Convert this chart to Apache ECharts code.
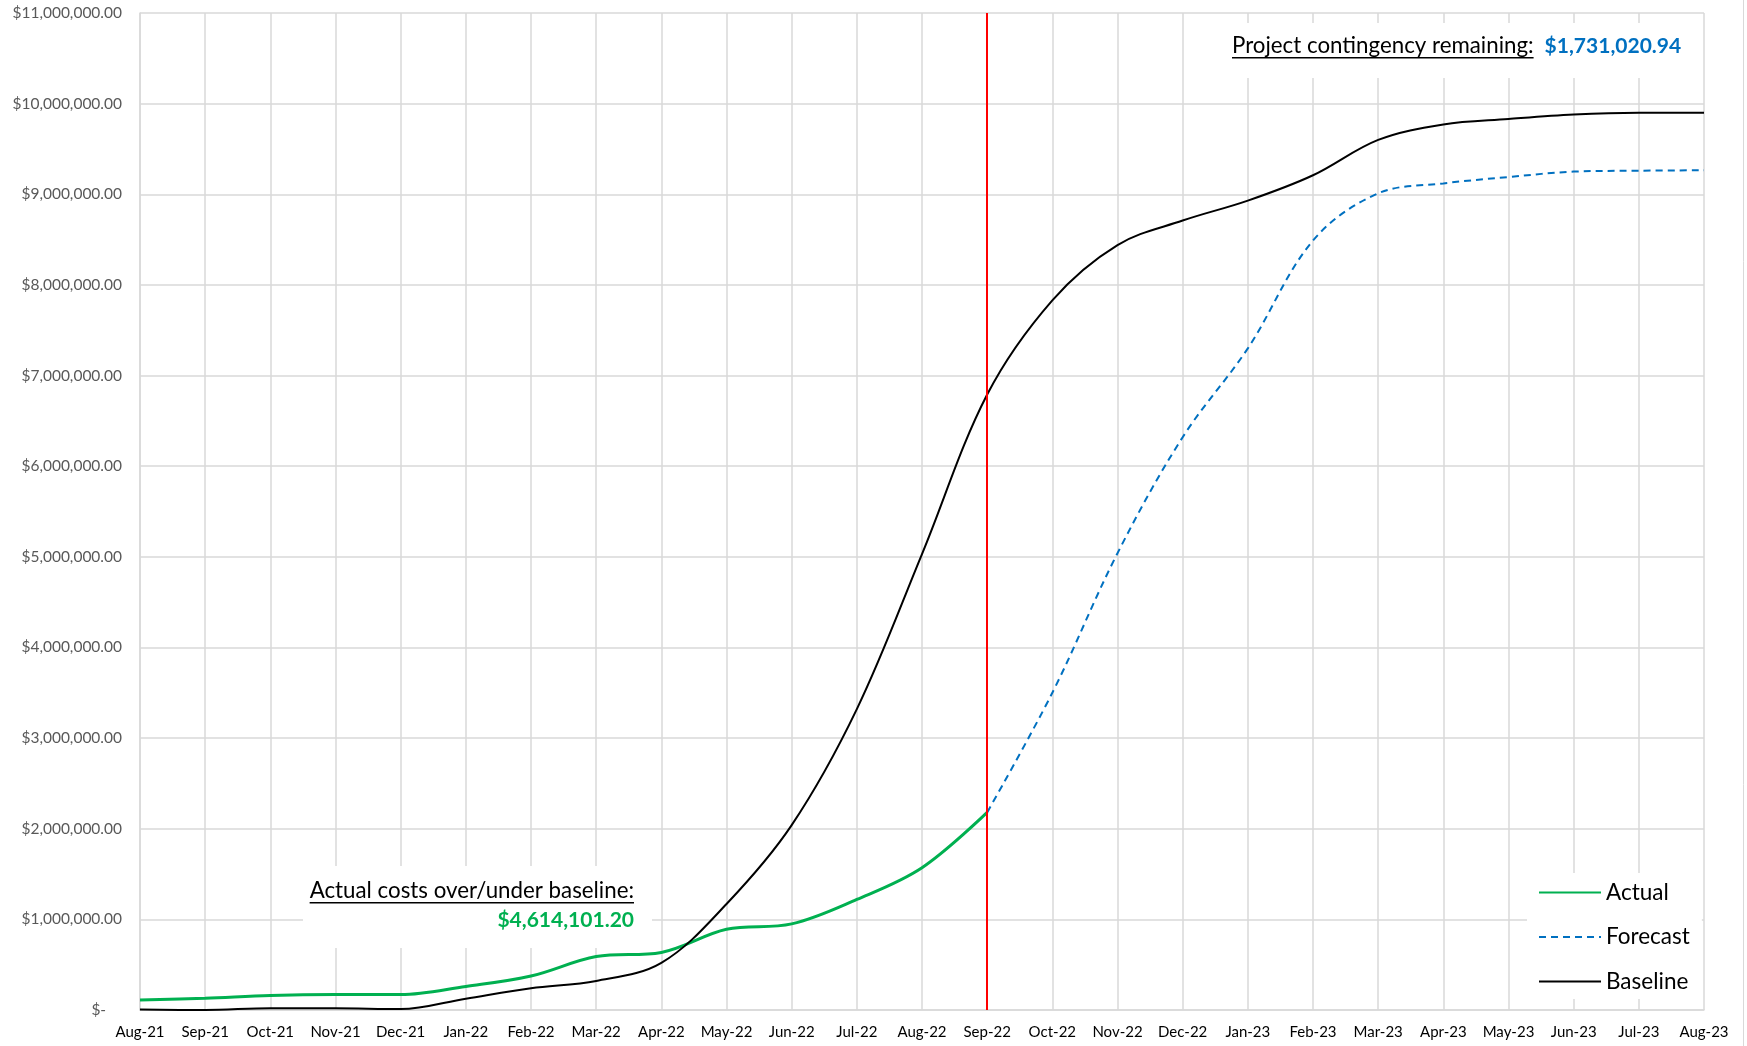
<!DOCTYPE html>
<html>
<head>
<meta charset="utf-8">
<script src="https://cdn.jsdelivr.net/npm/echarts@6/dist/echarts.min.js"></script>
<style>
  html, body { margin: 0; padding: 0; background: #fff; }
  #chart { width: 1747px; height: 1046px; }
</style>
</head>
<body>
<div id="chart"></div>
<script>
// Months on the x axis
const months = ['Aug-21', 'Sep-21', 'Oct-21', 'Nov-21', 'Dec-21', 'Jan-22', 'Feb-22', 'Mar-22', 'Apr-22',
    'May-22', 'Jun-22', 'Jul-22', 'Aug-22', 'Sep-22', 'Oct-22', 'Nov-22', 'Dec-22', 'Jan-23', 'Feb-23',
    'Mar-23', 'Apr-23', 'May-23', 'Jun-23', 'Jul-23', 'Aug-23'];

// Cumulative costs
const actual = [110000, 130000, 160000, 170000, 170000, 260000, 375000, 590000, 635000,
    890000, 950000, 1220000, 1570000, 2180000,
    null, null, null, null, null, null, null, null, null, null, null];

const forecast = [null, null, null, null, null, null, null, null, null, null, null, null, null,
    2180000, 3500000, 5040000, 6320000, 7300000, 8490000, 9010000, 9120000, 9190000, 9250000, 9260000, 9265000];

const baseline = [5000, 0, 20000, 20000, 10000, 125000, 240000, 320000, 520000,
    1170000, 2040000, 3320000, 5030000, 6790000, 7830000, 8440000, 8710000, 8930000, 9210000,
    9600000, 9770000, 9830000, 9880000, 9900000, 9900000];

const statusMonth = 'Sep-22';
const overUnderText = '$4,614,101.20';
const contingencyText = '$1,731,020.94';

const FONT = 'Lato, "Open Sans", sans-serif';

function money(v) {
    if (v === 0) return '$-    ';
    const parts = v.toFixed(2).split('.');
    return '$' + parts[0].replace(/\B(?=(\d{3})+(?!\d))/g, ',') + '.' + parts[1];
}

// measure text so the underlines match the label widths
const ctx = document.createElement('canvas').getContext('2d');
function textWidth(str, size, weight) {
    ctx.font = (weight || 'normal') + ' ' + size + 'px ' + FONT;
    return ctx.measureText(str).width;
}

const chart = echarts.init(document.getElementById('chart'));

const label1 = 'Actual costs over/under baseline:';
const label2 = 'Project contingency remaining:';
const annSize = 22.3;
const valSize = 21;
const w1 = textWidth(label1, annSize);
const w2 = textWidth(label2, annSize);

const option = {
    animation: false,
    backgroundColor: '#fff',
    grid: { left: 140, right: 43, top: 13, bottom: 36 },
    xAxis: {
        type: 'category',
        data: months,
        boundaryGap: false,
        axisTick: { show: false },
        axisLine: { lineStyle: { color: '#d9d9d9', width: 1.5 } },
        axisLabel: { color: '#000', fontFamily: FONT, fontSize: 15, margin: 15, interval: 0 },
        splitLine: { show: true, lineStyle: { color: '#d9d9d9', width: 1.5 } }
    },
    yAxis: {
        type: 'value',
        min: 0,
        max: 11000000,
        interval: 1000000,
        axisLine: { show: true, lineStyle: { color: '#d9d9d9', width: 1.5 } },
        axisTick: { show: false },
        axisLabel: { color: '#595959', fontFamily: FONT, fontSize: 15.5, margin: 18, formatter: money },
        splitLine: { lineStyle: { color: '#d9d9d9', width: 1.5 } }
    },
    legend: {
        orient: 'vertical',
        left: 1527,
        top: 873,
        backgroundColor: '#fff',
        padding: [8, 12, 6, 11],
        itemWidth: 62,
        itemHeight: 14,
        itemGap: 21.5,
        selectedMode: false,
        itemStyle: { opacity: 0 },
        z: 5,
        textStyle: { fontFamily: FONT, fontSize: 22.5, color: '#000' },
        data: ['Actual', 'Forecast', 'Baseline']
    },
    graphic: [
        { type: 'rect', z: 1, shape: { x: 303, y: 866, width: 349, height: 82 }, style: { fill: '#fff' } },
        { type: 'text', z: 3, style: { x: 634, y: 891, text: label1, align: 'right', verticalAlign: 'middle',
            font: annSize + 'px ' + FONT, fill: '#000' } },
        { type: 'rect', z: 3, shape: { x: 634 - w1, y: 902, width: w1, height: 1.5 }, style: { fill: '#000' } },
        { type: 'text', z: 3, style: { x: 634, y: 920, text: overUnderText, align: 'right', verticalAlign: 'middle',
            font: 'bold ' + valSize + 'px ' + FONT, fill: '#00B050' } },

        { type: 'rect', z: 1, shape: { x: 1215, y: 23, width: 485, height: 55 }, style: { fill: '#fff' } },
        { type: 'text', z: 3, style: { x: 1232, y: 46, text: label2, align: 'left', verticalAlign: 'middle',
            font: annSize + 'px ' + FONT, fill: '#000' } },
        { type: 'rect', z: 3, shape: { x: 1232, y: 57, width: w2, height: 1.5 }, style: { fill: '#000' } },
        { type: 'text', z: 3, style: { x: 1232 + w2 + 11, y: 46, text: contingencyText, align: 'left', verticalAlign: 'middle',
            font: 'bold ' + valSize + 'px ' + FONT, fill: '#0070C0' } },

        // chart area border on the right
        { type: 'line', z: 1, shape: { x1: 1743.5, y1: 0, x2: 1743.5, y2: 1046 }, style: { stroke: '#d9d9d9', lineWidth: 1 } }
    ],
    series: [
        {
            name: 'Actual',
            type: 'line',
            data: actual,
            smooth: 0.35,
            symbol: 'none',
            lineStyle: { color: '#00B050', width: 3 },
            itemStyle: { color: '#00B050' },
            z: 3,
            markLine: {
                silent: true,
                symbol: 'none',
                label: { show: false },
                lineStyle: { color: '#FF0000', width: 2, type: 'solid' },
                data: [{ xAxis: statusMonth }]
            }
        },
        {
            name: 'Forecast',
            type: 'line',
            data: forecast,
            smooth: 0.35,
            symbol: 'none',
            lineStyle: { color: '#0070C0', width: 2, type: [7, 5] },
            itemStyle: { color: '#0070C0' },
            z: 3
        },
        {
            name: 'Baseline',
            type: 'line',
            data: baseline,
            smooth: 0.35,
            symbol: 'none',
            lineStyle: { color: '#000', width: 2 },
            itemStyle: { color: '#000' },
            z: 3
        }
    ]
};

chart.setOption(option);
</script>
</body>
</html>
